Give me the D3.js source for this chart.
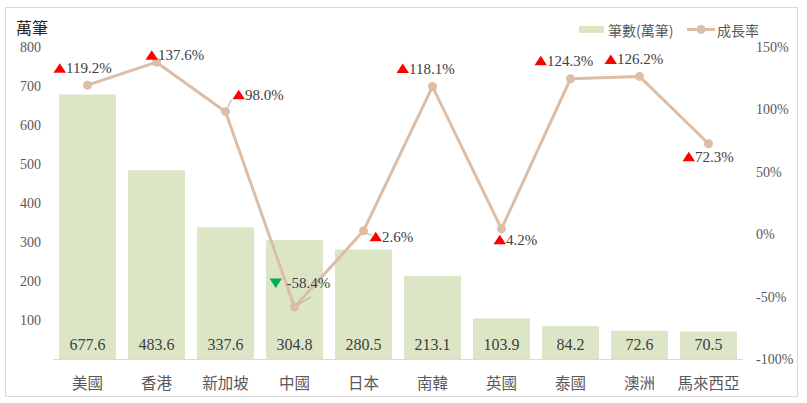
<!DOCTYPE html>
<html>
<head>
<meta charset="utf-8">
<script src="https://cdn.jsdelivr.net/npm/d3@7"></script>
<style>
  body { margin: 0; background: #fff; }
  svg { display: block; }
  .num { font-family: "Liberation Serif", "DejaVu Serif", serif; }
  .cjk { font-family: "Noto Sans CJK TC", "Noto Sans", sans-serif; }
</style>
</head>
<body>
<svg id="chart"></svg>
<script>
// données
const countries = ['美國','香港','新加坡','中國','日本','南韓','英國','泰國','澳洲','馬來西亞']
const counts = [677.6, 483.6, 337.6, 304.8, 280.5, 213.1, 103.9, 84.2, 72.6, 70.5]
const growth = [119.2, 137.6, 98.0, -58.4, 2.6, 118.1, 4.2, 124.3, 126.2, 72.3]
const leftTicks = [100, 200, 300, 400, 500, 600, 700, 800]
const rightTicks = [-100, -50, 0, 50, 100, 150]

// mise en page des étiquettes (décalage par rapport au point)
const labelOffset = [[-34,-17],[-11,-7],[7,-17],[-25,-24],[6,6],[-36,-18],[-8,11],[-36,-18],[-35,-17],[-26,13]]
const leaders = {2: [6,-12], 3: [16,-10], 4: [8,5]}

const width = 807, height = 403
const plot = {left: 53, right: 743, top: 46.7, bottom: 359}
const barColor = '#dce6c7'
const lineColor = '#dcbea7'

const svg = d3.select('#chart').attr('width', width).attr('height', height)

svg.append('rect')
   .attr('x', 5.5).attr('y', 7.5)
   .attr('width', 792).attr('height', 389)
   .attr('fill', '#fff').attr('stroke', '#d9d9d9')

const xScale = d3.scaleBand()
                 .domain(countries)
                 .range([plot.left, plot.right])
                 .paddingInner(0.174)
                 .paddingOuter(0.087)

const yLeft = d3.scaleLinear().domain([0, 800]).range([plot.bottom, plot.top])
const yRight = d3.scaleLinear().domain([-100, 150]).range([plot.bottom, plot.top])

/*axes*/
const leftAxis = d3.axisLeft(yLeft).tickValues(leftTicks).tickSize(0).tickPadding(0)
const gL = svg.append('g').attr('transform', 'translate(41,0)').call(leftAxis)
gL.attr('font-family', null)
gL.select('.domain').remove()
gL.selectAll('text').attr('class', 'num').attr('font-size', 14).attr('fill', '#595959')

const rightAxis = d3.axisRight(yRight).tickValues(rightTicks).tickSize(0).tickPadding(0)
                    .tickFormat(d => d + '%')
const gR = svg.append('g').attr('transform', 'translate(756,0)').call(rightAxis)
gR.attr('font-family', null)
gR.select('.domain').remove()
gR.selectAll('text').attr('class', 'num').attr('font-size', 14).attr('fill', '#595959')

/*barres*/
svg.selectAll('rect.bar')
   .data(counts)
   .enter()
   .append('rect')
   .attr('class', 'bar')
   .attr('x', (d, i) => xScale(countries[i]))
   .attr('y', d => yLeft(d))
   .attr('width', xScale.bandwidth())
   .attr('height', d => plot.bottom - yLeft(d))
   .attr('fill', barColor)

svg.append('line')
   .attr('x1', plot.left).attr('x2', plot.right)
   .attr('y1', plot.bottom + 0.5).attr('y2', plot.bottom + 0.5)
   .attr('stroke', '#d9d9d9')

svg.selectAll('text.barval')
   .data(counts)
   .enter()
   .append('text')
   .attr('class', 'barval num')
   .attr('x', (d, i) => xScale(countries[i]) + xScale.bandwidth() / 2)
   .attr('y', 344)
   .attr('text-anchor', 'middle')
   .attr('dominant-baseline', 'central')
   .attr('font-size', 16).attr('fill', '#404040')
   .text(d => d.toFixed(1))

/*axe x*/
const xAxis = d3.axisBottom(xScale).tickSize(0).tickPadding(0)
const gX = svg.append('g').attr('transform', 'translate(0,378)').call(xAxis)
gX.attr('font-family', null)
gX.select('.domain').remove()
gX.selectAll('text').attr('class', 'cjk').attr('font-size', 15.5).attr('fill', '#595959')

/*courbe*/
const cx = i => xScale(countries[i]) + xScale.bandwidth() / 2
const line = d3.line().x((d, i) => cx(i)).y(d => yRight(d))

svg.append('path')
   .datum(growth)
   .attr('d', line)
   .attr('fill', 'none')
   .attr('stroke', lineColor)
   .attr('stroke-width', 3)
   .attr('stroke-linejoin', 'round')

Object.keys(leaders).forEach(k => {
    const i = +k
    svg.append('line')
       .attr('x1', cx(i)).attr('y1', yRight(growth[i]))
       .attr('x2', cx(i) + leaders[k][0]).attr('y2', yRight(growth[i]) + leaders[k][1])
       .attr('stroke', '#a6a6a6').attr('stroke-width', 1)
})

svg.selectAll('circle.pt')
   .data(growth)
   .enter()
   .append('circle')
   .attr('class', 'pt')
   .attr('cx', (d, i) => cx(i))
   .attr('cy', d => yRight(d))
   .attr('r', 4.5)
   .attr('fill', lineColor)

/*étiquettes de croissance*/
growth.forEach((g, i) => {
    const x0 = cx(i) + labelOffset[i][0]
    const y0 = yRight(g) + labelOffset[i][1]
    const up = g >= 0
    const tri = up
        ? `M${x0},${y0 + 4.5} L${x0 + 12.5},${y0 + 4.5} L${x0 + 6.25},${y0 - 5} Z`
        : `M${x0},${y0 - 4.5} L${x0 + 12.5},${y0 - 4.5} L${x0 + 6.25},${y0 + 5} Z`
    svg.append('path').attr('d', tri).attr('fill', up ? '#ff0000' : '#00b050')
    svg.append('text')
       .attr('class', 'num')
       .attr('x', up ? x0 + 12.5 : x0 + 17)
       .attr('y', y0)
       .attr('dominant-baseline', 'central')
       .attr('font-size', 15).attr('fill', '#404040')
       .text(g.toFixed(1) + '%')
})

/*titre axe y*/
svg.append('text')
   .attr('class', 'cjk')
   .attr('x', 16).attr('y', 27)
   .attr('dominant-baseline', 'central')
   .attr('font-size', 16).attr('fill', '#262626')
   .text('萬筆')

/*légende*/
const legend = svg.append('g')
legend.append('rect').attr('x', 579).attr('y', 26).attr('width', 25).attr('height', 7).attr('fill', barColor)
legend.append('text').attr('class', 'cjk').attr('x', 608).attr('y', 30)
      .attr('dominant-baseline', 'central')
      .attr('font-size', 14).attr('fill', '#595959')
      .text('筆數(萬筆)')
legend.append('line').attr('x1', 687).attr('x2', 715).attr('y1', 29.5).attr('y2', 29.5)
      .attr('stroke', lineColor).attr('stroke-width', 3)
legend.append('circle').attr('cx', 701).attr('cy', 29.5).attr('r', 4.5).attr('fill', lineColor)
legend.append('text').attr('class', 'cjk').attr('x', 717).attr('y', 30)
      .attr('dominant-baseline', 'central')
      .attr('font-size', 14).attr('fill', '#595959')
      .text('成長率')
</script>
</body>
</html>
